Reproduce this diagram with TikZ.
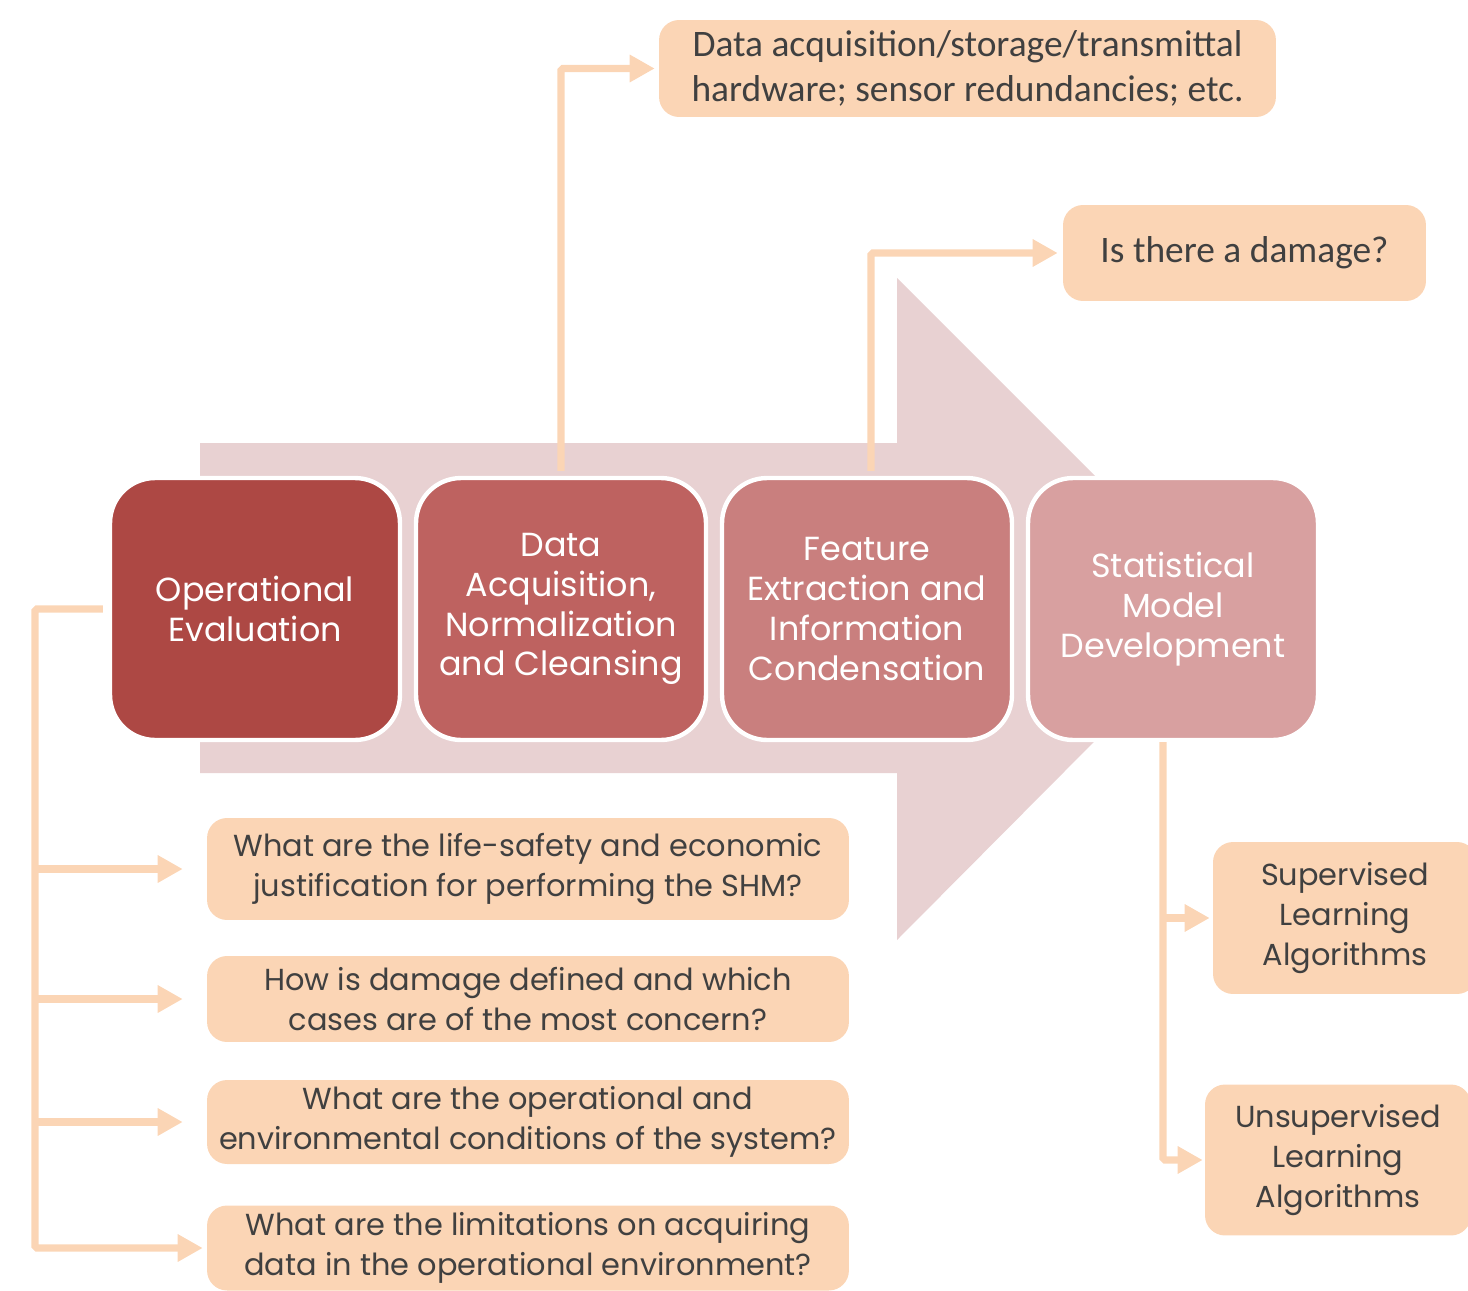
\documentclass[tikz,border=0pt]{standalone}
\usepackage{fontspec}
\setmainfont{Poppins}
\newfontfamily\calfont{Carlito}
\usepackage{xcolor}
\usetikzlibrary{positioning,arrows.meta}

\definecolor{stageA}{HTML}{AD4844}
\definecolor{stageB}{HTML}{BE6260}
\definecolor{stageC}{HTML}{C97F7E}
\definecolor{stageD}{HTML}{D8A0A0}
\definecolor{flowbg}{HTML}{E8D1D2}
\definecolor{peach}{HTML}{FBD5B5}
\definecolor{ink}{HTML}{404040}

\begin{document}
\begin{tikzpicture}[
  x=0.02cm, y=-0.02cm,
  >={Triangle[length=0.5cm,width=0.52cm]},
  stage/.style={rectangle, rounded corners=0.9cm, draw=white, line width=2.5pt, text=white, align=center, font=\fontsize{19}{22.7}\selectfont, minimum width=5.8cm, minimum height=5.24cm, inner sep=0pt},
  note/.style={rectangle, rounded corners=0.4cm, fill=peach, text=ink, align=center, font=\fontsize{17.3}{22.7}\selectfont, inner sep=0pt, minimum width=12.84cm},
  hwnote/.style={note, font=\calfont\fontsize{21.3}{25.5}\selectfont},
  link/.style={draw=peach, line width=4pt, rounded corners=1pt}
]
\useasboundingbox (0,0) rectangle (1468,1291);

% process arrow behind the stages
\fill[flowbg] (200,443) -- (897,443) -- (897,278) -- (1227,608) -- (897,940) -- (897,773) -- (200,773) -- cycle;

% the four stages
\node[stage, fill=stageA] (op) at (255,609) {Operational\\Evaluation};
\node[stage, fill=stageB] (da) at (561,609) {Data\\Acquisition,\\Normalization\\and Cleansing};
\node[stage, fill=stageC] (fe) at (867,609) {Feature\\Extraction and\\Information\\Condensation};
\node[stage, fill=stageD] (sm) at (1173,609) {Statistical\\Model\\Development};

% notes
\node[hwnote, minimum width=12.34cm, minimum height=1.94cm] (hw) at (967.5,68.5) {Data acquisition/storage/transmittal\\hardware; sensor redundancies; etc.};
\node[hwnote, minimum width=7.26cm, minimum height=1.92cm] (dmg) at (1244.5,253) {Is there a damage?};

\node[note, minimum height=2.04cm] (q1) at (528,869) {What are the life-safety and economic\\justification for performing the SHM?};
\node[note, minimum height=1.72cm] (q2) at (528,999) {How is damage defined and which\\cases are of the most concern?};
\node[note, minimum height=1.68cm] (q3) at (528,1122) {What are the operational and\\environmental conditions of the system?};
\node[note, minimum height=1.7cm] (q4) at (528,1248) {What are the limitations on acquiring\\data in the operational environment?};

\node[note, minimum width=5.28cm, minimum height=3.04cm] (sup) at (1345,918) {Supervised\\Learning\\Algorithms};
\node[note, minimum width=5.32cm, minimum height=3.02cm] (uns) at (1338,1160) {Unsupervised\\Learning\\Algorithms};

% connectors
\coordinate (trunk) at (35,0);
\draw[link,->] ([xshift=-0.1cm]op.west) -| (trunk |- q4.west) -- ([xshift=-0.08cm]q4.west);
\foreach \q in {q1,q2,q3}
  \draw[link,->] (trunk |- \q.west) -- ([xshift=-0.48cm]\q.west);

\draw[link,->] ([yshift=0.1cm]da.north) |- ([xshift=-0.08cm]hw.west);
\draw[link,->] ([xshift=0.08cm,yshift=0.1cm]fe.north) |- ([xshift=-0.1cm]dmg.west);

\coordinate (strunk) at ([xshift=-0.2cm]sm.south);
\draw[link,->] (strunk) |- ([xshift=-0.04cm]uns.west);
\draw[link,->] (strunk |- sup.west) -- ([xshift=-0.06cm]sup.west);
\end{tikzpicture}
\end{document}
